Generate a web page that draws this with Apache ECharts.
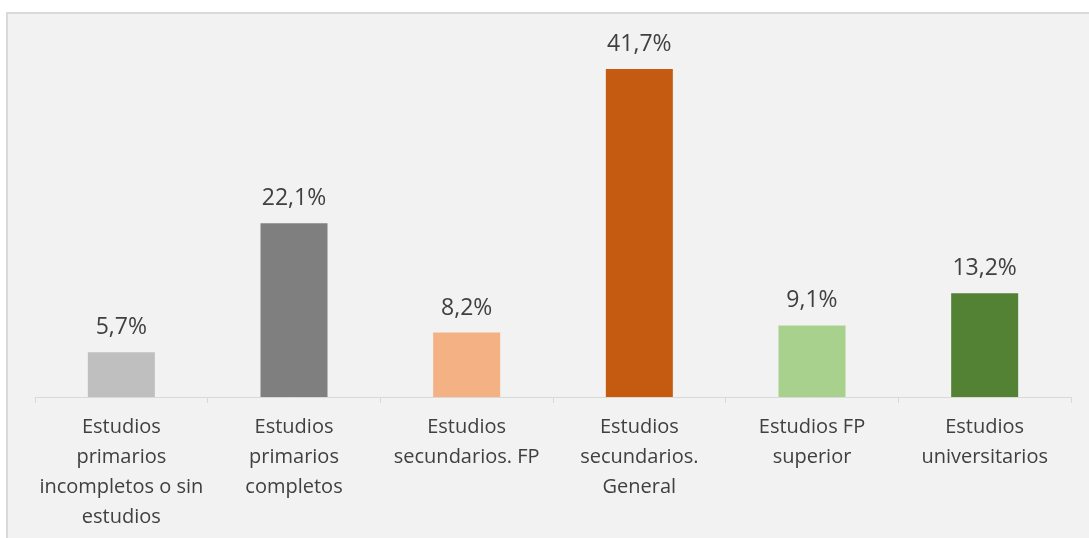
<!DOCTYPE html>
<html>
<head>
<meta charset="utf-8">
<script src="https://cdn.jsdelivr.net/npm/echarts@6/dist/echarts.min.js"></script>
<style>
html,body{margin:0;padding:0;background:#ffffff;}
#chart{width:1089px;height:538px;}
</style>
</head>
<body>
<div id="chart"></div>
<script>
var categories = [
  "Estudios\nprimarios\nincompletos o sin\nestudios",
  "Estudios\nprimarios\ncompletos",
  "Estudios\nsecundarios. FP",
  "Estudios\nsecundarios.\nGeneral",
  "Estudios FP\nsuperior",
  "Estudios\nuniversitarios"
];
var values = [5.7, 22.1, 8.2, 41.7, 9.1, 13.2];
var colors = ["#bfbfbf", "#7f7f7f", "#f4b183", "#c55a11", "#a9d18e", "#548235"];

var chart = echarts.init(document.getElementById('chart'), null, {renderer: 'canvas'});
var font = '"Open Sans", "Liberation Sans", sans-serif';
chart.setOption({
  animation: false,
  backgroundColor: '#ffffff',
  graphic: [{
    type: 'rect', z: -10, silent: true,
    shape: {x: 7, y: 13, width: 1200, height: 600},
    style: {fill: '#f2f2f2', stroke: '#d9d9d9', lineWidth: 2}
  }],
  grid: {left: 35, right: 18, top: 43, bottom: 141},
  xAxis: {
    type: 'category',
    data: categories,
    axisLine: {lineStyle: {color: '#d9d9d9', width: 1}},
    axisTick: {show: true, length: 6, lineStyle: {color: '#d9d9d9'}},
    axisLabel: {
      interval: 0, color: '#404040', fontFamily: font, fontSize: 20,
      lineHeight: 30, margin: 15
    }
  },
  yAxis: {type: 'value', min: 0, max: 45, show: false, splitLine: {show: false}},
  series: [{
    type: 'bar',
    data: values.map(function (v, i) { return {value: v, itemStyle: {color: colors[i]}}; }),
    barWidth: 67,
    label: {
      show: true, position: 'top', distance: 13,
      color: '#404040', fontFamily: font, fontSize: 23,
      formatter: function (p) { return p.value.toFixed(1).replace('.', ',') + '%'; }
    }
  }]
});
</script>
</body>
</html>
